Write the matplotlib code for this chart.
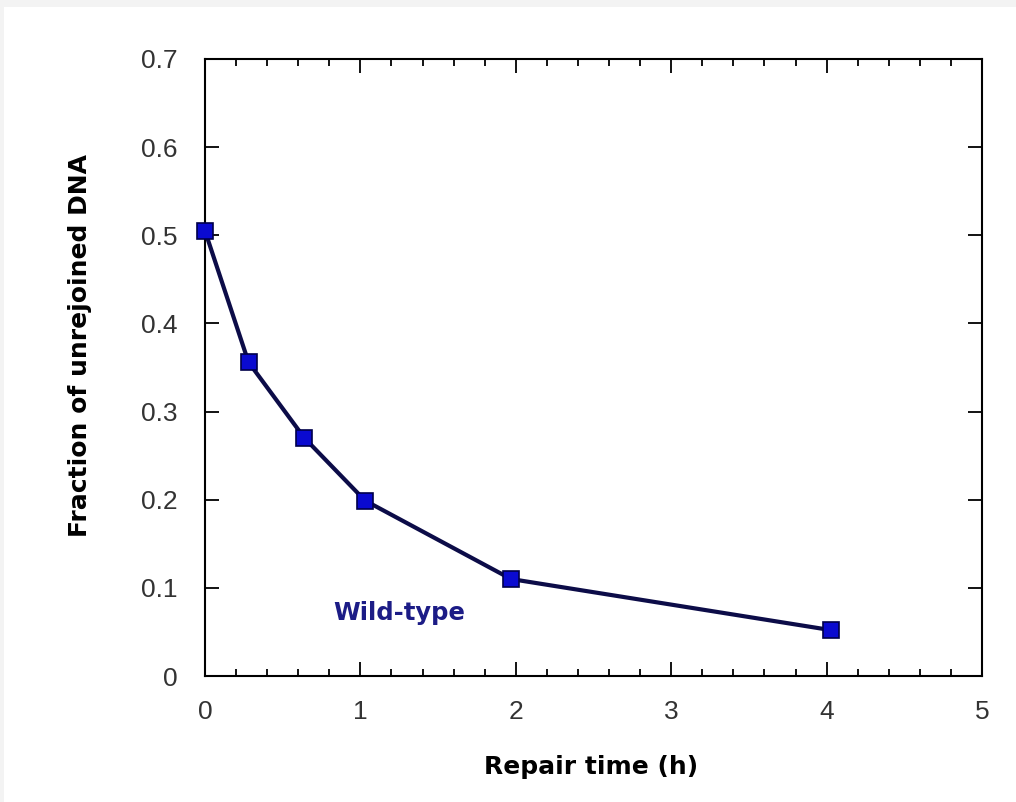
import matplotlib
matplotlib.use("Agg")
import matplotlib.pyplot as plt
from matplotlib.patches import Rectangle
from matplotlib.ticker import MultipleLocator

# repair kinetics, wild-type
repair_time = [0.0, 0.28, 0.64, 1.03, 1.97, 4.03]
unrejoined = [0.505, 0.356, 0.270, 0.199, 0.110, 0.052]

fig = plt.figure(figsize=(10.16, 8.02), dpi=100)
fig.patch.set_facecolor("white")
# light grey screenshot border, top and left
fig.patches.append(Rectangle((0, 1 - 7 / 802), 1, 7 / 802, transform=fig.transFigure,
                             facecolor="#f3f3f3", edgecolor="none"))
fig.patches.append(Rectangle((0, 0), 4 / 1016, 1, transform=fig.transFigure,
                             facecolor="#f3f3f3", edgecolor="none"))
ax = fig.add_axes([205 / 1016, 1 - 676 / 802, 777 / 1016, 617 / 802])

ax.plot(repair_time, unrejoined, color="#0c0c48", lw=3.0, marker="s", ms=11,
        mfc="#0a0ad0", mec="#00004a", mew=1.2, clip_on=False, zorder=3)
ax.text(1.25, 0.072, "Wild-type", color="#1c1c86", fontsize=17.5, fontweight="bold",
        ha="center", va="center", family="DejaVu Sans")

ax.set_xlim(0, 5)
ax.set_ylim(0, 0.7)
ax.xaxis.set_minor_locator(MultipleLocator(0.2))
ax.set_yticks([0, 0.1, 0.2, 0.3, 0.4, 0.5, 0.6, 0.7])
ax.set_yticklabels(["0", "0.1", "0.2", "0.3", "0.4", "0.5", "0.6", "0.7"])
ax.set_xticks([0, 1, 2, 3, 4, 5])
ax.set_xticklabels(["0", "1", "2", "3", "4", "5"])

for s in ax.spines.values():
    s.set_linewidth(1.5)
ax.tick_params(which="both", direction="in", top=True, right=True, width=1.3,
               labelsize=19, labelcolor="#333333")
ax.tick_params(axis="x", which="major", length=10, pad=17)
ax.tick_params(axis="y", which="major", length=10, pad=20)
ax.tick_params(axis="x", which="minor", length=5)
for lab in ax.get_xticklabels() + ax.get_yticklabels():
    lab.set_family("Liberation Sans")

ax.set_xlabel("Repair time (h)", fontsize=18, fontweight="bold")
ax.set_ylabel("Fraction of unrejoined DNA", fontsize=18, fontweight="bold")
ax.xaxis.set_label_coords(0.497, -0.128)
ax.yaxis.set_label_coords(-0.145, 0.535)

fig.savefig("out.png", dpi=100)
